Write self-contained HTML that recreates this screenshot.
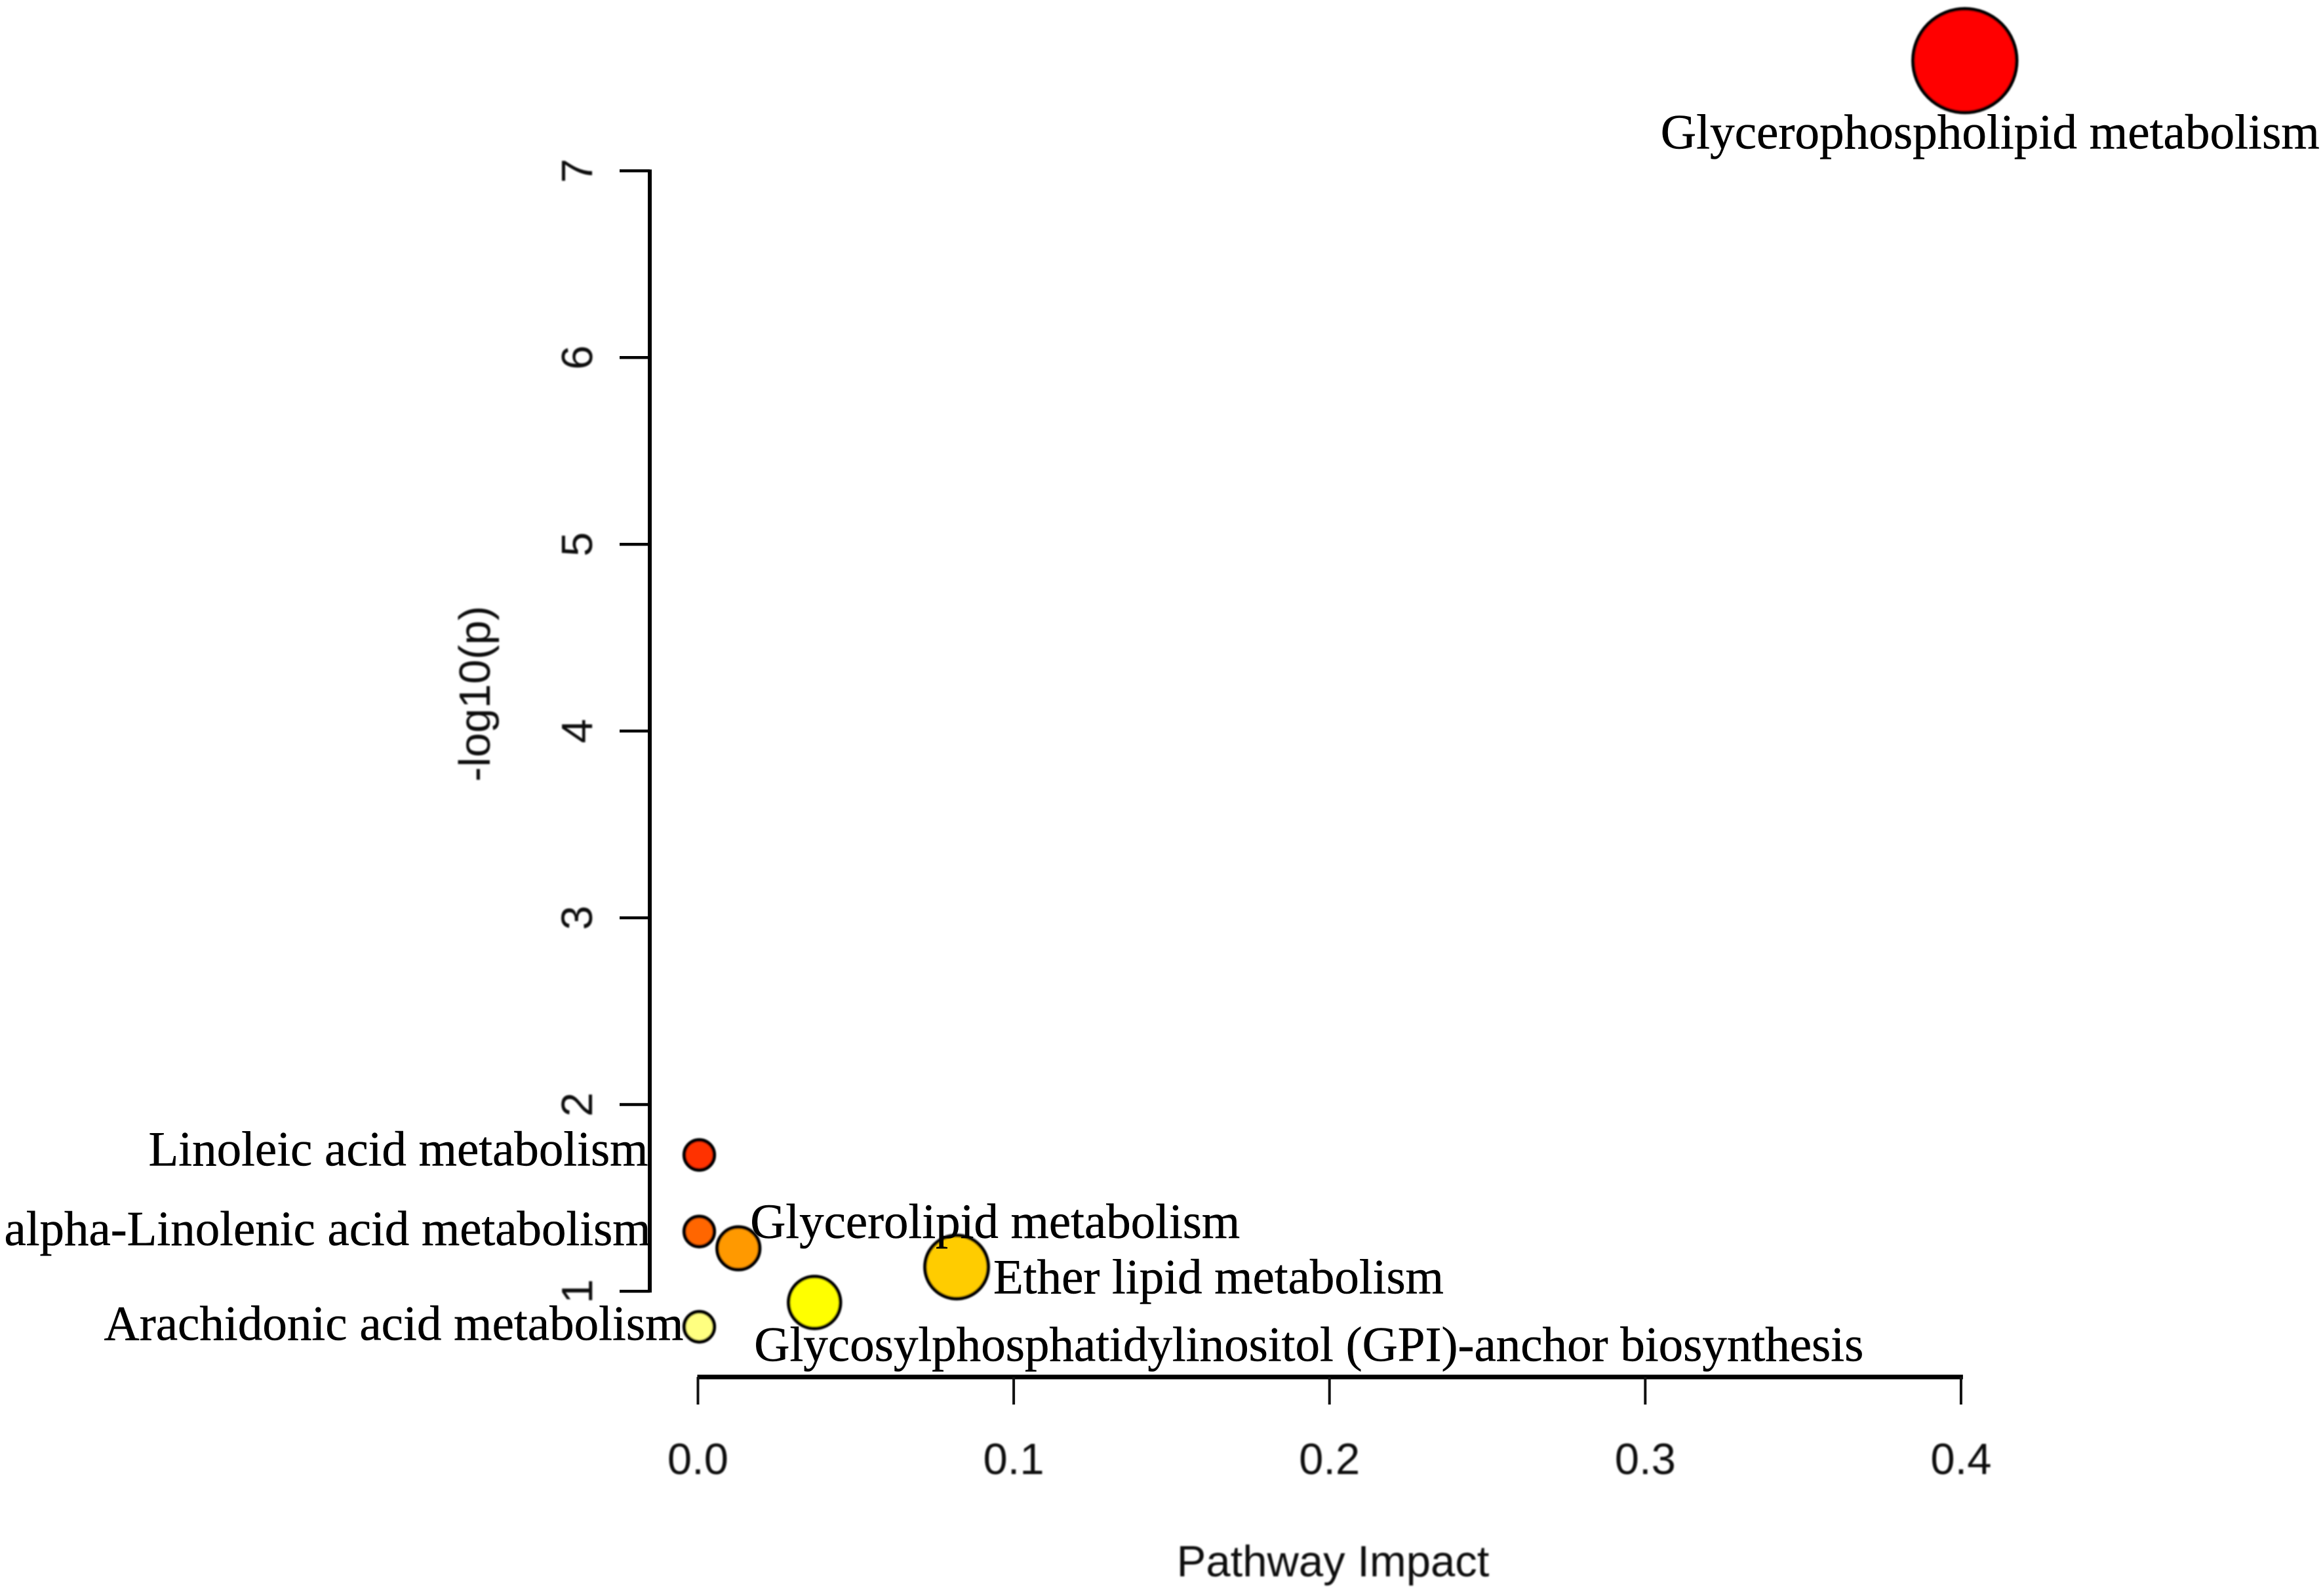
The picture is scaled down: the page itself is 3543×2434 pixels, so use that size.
<!DOCTYPE html>
<html lang="en">
<head>
<meta charset="utf-8">
<title>Pathway impact bubble chart</title>
<style>
html,body{margin:0;padding:0;background:#fff;}
svg{display:block;}
.sans{font-family:"Liberation Sans",Arial,sans-serif;font-size:67px;fill:#111;filter:url(#soft);}
.serif{font-family:"Liberation Serif","Times New Roman",serif;font-size:75px;fill:#000;stroke:#000;stroke-width:0.5px;}
</style>
</head>
<body>
<svg id="chart" xmlns="http://www.w3.org/2000/svg" width="3543" height="2434" viewBox="0 0 3543 2434">
<defs>
<filter id="soft" x="-20%" y="-20%" width="140%" height="140%"><feGaussianBlur stdDeviation="1.1"/></filter>
</defs>
<rect width="3543" height="2434" fill="#fff"/>
<g id="axes"></g>
<g id="points" filter="url(#soft)"></g>
<g id="labels"></g>
</svg>
<script>
const pathways = ["Glycerophospholipid metabolism","Linoleic acid metabolism","alpha-Linolenic acid metabolism","Glycerolipid metabolism","Ether lipid metabolism","Glycosylphosphatidylinositol (GPI)-anchor biosynthesis","Arachidonic acid metabolism"];
const impact = [0.4008,0,0,0.0124,0.0815,0.0365,0];
const logP = [7.59,1.73,1.32,1.23,1.13,0.94,0.81];
const bubbleSize = [1,0.29,0.29,0.41,0.61,0.5,0.29];
const heatRank = [0,1,2,3,4,5,6];
const xTicks = [0,0.1,0.2,0.3,0.4];
const xTickLabels = ["0.0","0.1","0.2","0.3","0.4"];
const yTicks = [1,2,3,4,5,6,7];
const yTickLabels = ["1","2","3","4","5","6","7"];

const NS = "http://www.w3.org/2000/svg";
function xScale(v){return 1065.5 + v * 4816;}
function yScale(v){return 260.5 + (7 - v) * 284.8;}
function rScale(v){return v * 79;}
function heat(rank){
  const g = Math.min(255, rank * 51);
  const b = rank > 5 ? 128 : 0;
  return "rgb(255," + g + "," + b + ")";
}
function mk(tag, attrs, parent, text){
  const el = document.createElementNS(NS, tag);
  for (const k in attrs) el.setAttribute(k, attrs[k]);
  if (text !== undefined) el.textContent = text;
  parent.appendChild(el);
  return el;
}
function slug(s){return s.toLowerCase().replace(/[^a-z0-9]+/g,"-").replace(/^-|-$/g,"");}

function drawAxes(){
  const g = document.getElementById("axes");
  const yLine = mk("line",{x1:991,x2:991,y1:yScale(yTicks[yTicks.length-1])-2,y2:yScale(yTicks[0])+2,stroke:"#000","stroke-width":6},g);
  
  
  yTicks.forEach(function(t,i){
    const tick = mk("line",{x1:945,x2:991,y1:yScale(t),y2:yScale(t),stroke:"#000","stroke-width":4.5},g);
    
    
    const y = yScale(t);
    const label = mk("text",{x:903,y:y,"text-anchor":"middle",transform:"rotate(-90 903 "+y+")",class:"sans"},g,yTickLabels[i]);
    
    
  });
  const xLine = mk("line",{x1:xScale(xTicks[0])-2,x2:xScale(xTicks[xTicks.length-1])+2,y1:2100,y2:2100,stroke:"#000","stroke-width":7},g);
  
  
  xTicks.forEach(function(t,i){
    const tick = mk("line",{x1:xScale(t)-1,x2:xScale(t)-1,y1:2100,y2:2142,stroke:"#111","stroke-width":4},g);
    
    
    const label = mk("text",{x:xScale(t)-1,y:2248,"text-anchor":"middle",class:"sans"},g,xTickLabels[i]);
    
    
  });
  const xTitle = mk("text",{x:2033,y:2404,"text-anchor":"middle",class:"sans"},g,"Pathway Impact");
  
  
  const yTitle = mk("text",{x:747,y:1058,"text-anchor":"middle",transform:"rotate(-90 747 1058)",class:"sans"},g,"-log10(p)");
  
  
}

function drawPoints(){
  const g = document.getElementById("points");
  pathways.forEach(function(name,i){
    const c = mk("circle",{cx:xScale(impact[i])+1,cy:yScale(logP[i]),r:rScale(bubbleSize[i]),fill:heat(heatRank[i]),stroke:"#000","stroke-width":5.5},g);
    
    
  });
}

function drawLabels(){
  // label placement relative to each bubble centre: offset to text start, baseline offset, drawn width
  const placement = [
    {dx:-463,dy:134,w:1005},
    {dx:-839,dy:16,w:762},
    {dx:-1059,dy:21,w:986},
    {dx:19,dy:-16,w:747},
    {dx:57,dy:40,w:687},
    {dx:-91,dy:89,w:1692},
    {dx:-907,dy:20,w:884}
  ];
  const g = document.getElementById("labels");
  pathways.forEach(function(name,i){
    const p = placement[i];
    const t = mk("text",{x:xScale(impact[i])+p.dx,y:yScale(logP[i])+p.dy,class:"serif",textLength:p.w,lengthAdjust:"spacingAndGlyphs"},g,name);
    
    
  });
}

drawAxes();
drawPoints();
drawLabels();
</script>
</body>
</html>
